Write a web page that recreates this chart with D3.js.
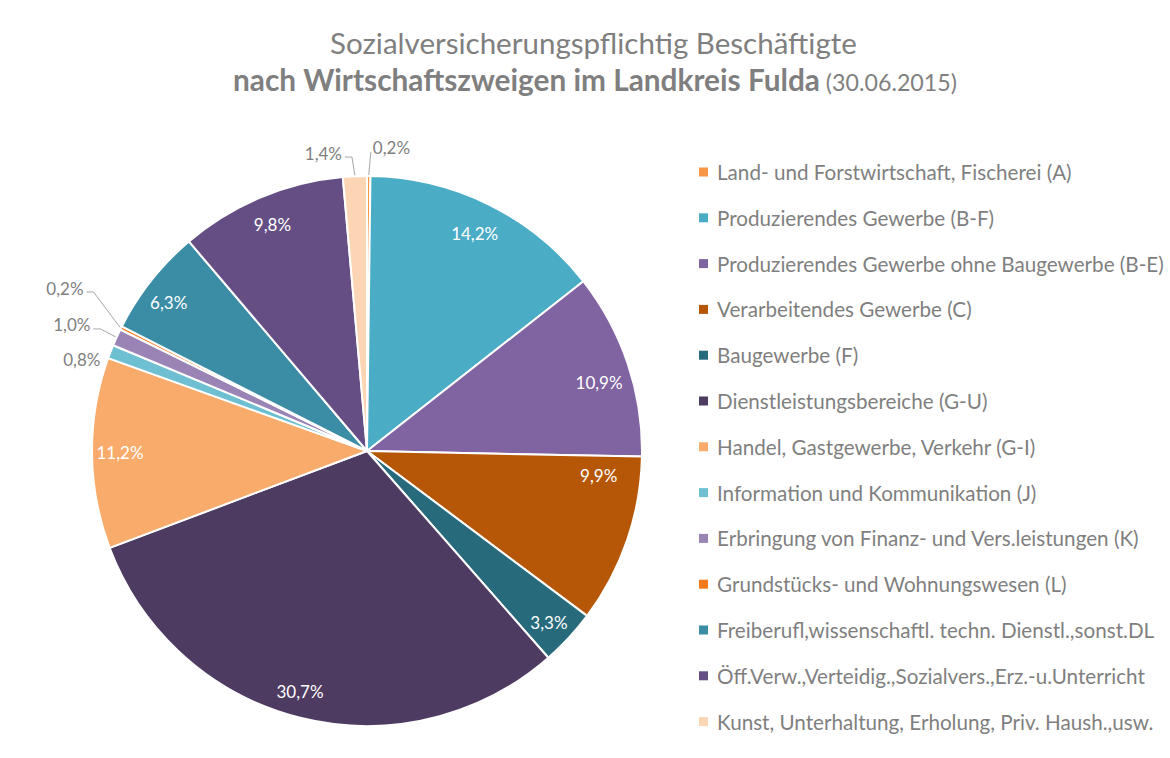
<!DOCTYPE html>
<html>
<head>
<meta charset="utf-8">
<script src="https://cdn.jsdelivr.net/npm/d3@7/dist/d3.min.js"></script>
<style>
  html, body { margin: 0; padding: 0; background: #fff; }
  svg { display: block; }
  text { font-family: Lato, "Open Sans", sans-serif; }
</style>
</head>
<body>
<svg id="chart" width="1170" height="758"></svg>
<script>
// ---- data ----
const categories = [
  "Land- und Forstwirtschaft, Fischerei (A)",
  "Produzierendes Gewerbe (B-F)",
  "Produzierendes Gewerbe ohne Baugewerbe (B-E)",
  "Verarbeitendes Gewerbe (C)",
  "Baugewerbe (F)",
  "Dienstleistungsbereiche (G-U)",
  "Handel, Gastgewerbe, Verkehr (G-I)",
  "Information und Kommunikation (J)",
  "Erbringung von Finanz- und Vers.leistungen (K)",
  "Grundstücks- und Wohnungswesen (L)",
  "Freiberufl,wissenschaftl. techn. Dienstl.,sonst.DL",
  "Öff.Verw.,Verteidig.,Sozialvers.,Erz.-u.Unterricht",
  "Kunst, Unterhaltung, Erholung, Priv. Haush.,usw."
];
const values = [0.2, 14.2, 10.9, 9.9, 3.3, 30.7, 11.2, 0.8, 1.0, 0.2, 6.3, 9.8, 1.4];
const valueLabels = ["0,2%", "14,2%", "10,9%", "9,9%", "3,3%", "30,7%", "11,2%", "0,8%", "1,0%", "0,2%", "6,3%", "9,8%", "1,4%"];
const colors = ["#F79646", "#4BACC6", "#8064A2", "#B65708", "#276A7C", "#4E3B62",
                "#F9AB6B", "#6FBFD3", "#9A84B6", "#F57A1C", "#3A8DA5", "#654E84", "#FCD5B5"];
const titleLine1 = "Sozialversicherungspflichtig Beschäftigte";
const titleLine2Bold = "nach Wirtschaftszweigen im Landkreis Fulda";
const titleLine2Rest = " (30.06.2015)";

// ---- label layout (annotation placement, not data) ----
// inside labels: [angle nudge in degrees, radius]
const insideLayout = {1: [0, 243], 2: [2, 242], 3: [-13, 233], 4: [0.5, 250], 5: [1.5, 250], 6: [0, 247], 10: [-1.4, 248], 11: [0, 245]};
// outside labels: [angle deg, radius, anchor, leader]
const outsideLayout = {
  0: [1.1, 304, "start", false],
  12: [355.2, 299, "end", true],
  9: [299.9, 327, "end", true],
  8: [294.5, 304, "end", true],
  7: [289, 282, "end", false]
};

const W = 1170, H = 758;
const svg = d3.select("#chart");
const gray = "#7F7F7F";

function fitText(sel, targetWidth) {
  const node = sel.node();
  const fs = parseFloat(sel.attr("font-size"));
  const w = node.getComputedTextLength();
  sel.attr("font-size", (fs * targetWidth / w).toFixed(2));
}

// ---- title ----
const t1 = svg.append("text").attr("x", 593.5).attr("y", 54).attr("text-anchor", "middle")
  .attr("fill", gray).attr("font-size", 24).text(titleLine1);
fitText(t1, 527);
const t2 = svg.append("text").attr("x", 595).attr("y", 91).attr("text-anchor", "middle")
  .attr("fill", gray).attr("font-size", 24);
t2.append("tspan").attr("font-weight", "bold").text(titleLine2Bold);
t2.append("tspan").attr("font-size", "0.78em").text(titleLine2Rest);
fitText(t2, 724);

// ---- pie ----
const cx = 367, cy = 451, R = 275;
const pie = d3.pie().sort(null).value(d => d)(values);
const arc = d3.arc().innerRadius(0).outerRadius(R);
const g = svg.append("g").attr("transform", `translate(${cx},${cy})`);
g.selectAll("path.slice").data(pie).join("path")
  .attr("class", "slice")
  .attr("d", arc)
  .attr("fill", (d, i) => colors[i])
  .attr("stroke", "#fff")
  .attr("stroke-width", 2)
  .attr("stroke-linejoin", "round");

function polar(angDeg, r) {
  const a = angDeg * Math.PI / 180;
  return [r * Math.sin(a), -r * Math.cos(a)];
}
const labelFont = 17;

pie.forEach((d, i) => {
  const mid = (d.startAngle + d.endAngle) / 2 * 180 / Math.PI;
  if (insideLayout[i]) {
    const [nudge, r] = insideLayout[i];
    const [x, y] = polar(mid + nudge, r);
    g.append("text").attr("x", x).attr("y", y)
      .attr("text-anchor", "middle").attr("dominant-baseline", "central")
      .attr("fill", "#fff").attr("font-size", labelFont).text(valueLabels[i]);
  } else if (outsideLayout[i]) {
    const [ang, r, anchor, leader] = outsideLayout[i];
    const [x, y] = polar(ang, r);
    g.append("text").attr("x", x).attr("y", y)
      .attr("text-anchor", anchor).attr("dominant-baseline", "central")
      .attr("fill", gray).attr("font-size", labelFont).text(valueLabels[i]);
    const [ex, ey] = polar(mid, R + 1);
    let pts;
    if (leader) {
      const sx = anchor === "end" ? x + 3 : x - 3;
      const elbowX = anchor === "end" ? x + 10 : x - 10;
      pts = [[ex, ey], [elbowX, y + 4], [sx, y + 4]];
    } else {
      const sx = anchor === "end" ? x + 2 : x - 2;
      pts = [[ex, ey], [sx, y + 5]];
    }
    if (i !== 7) {
      g.append("path").attr("d", d3.line()(pts))
        .attr("fill", "none").attr("stroke", "#A6A6A6").attr("stroke-width", 1);
    }
  }
});

// ---- legend ----
const legendX = 699, legendY0 = 172, legendStep = 45.8;
const lg = svg.append("g");
const items = lg.selectAll("g.item").data(categories).join("g")
  .attr("class", "item")
  .attr("transform", (d, i) => `translate(${legendX},${legendY0 + i * legendStep})`);
items.append("rect").attr("x", 0).attr("y", -4.5).attr("width", 9).attr("height", 9)
  .attr("fill", (d, i) => colors[i]);
const ltexts = items.append("text").attr("x", 18).attr("y", 0)
  .attr("dominant-baseline", "central").attr("fill", gray).attr("font-size", 17)
  .text(d => d);
// fit legend font so the longest entry matches reference width
const longest = ltexts.filter((d, i) => i === 2);
const w0 = longest.node().getComputedTextLength();
const fsL = 17 * 447 / w0;
ltexts.attr("font-size", fsL.toFixed(2));
</script>
</body>
</html>
